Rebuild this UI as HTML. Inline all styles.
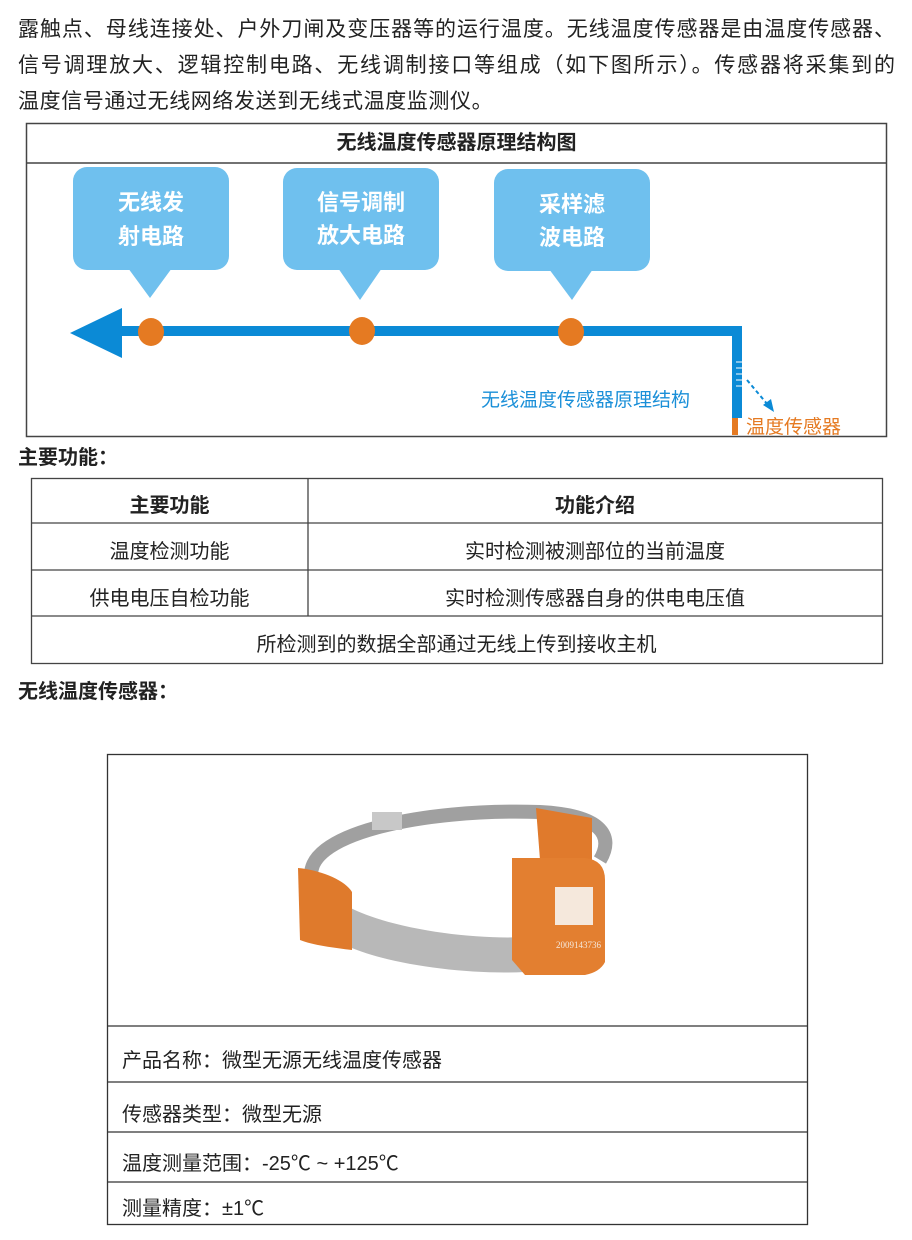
<!DOCTYPE html>
<html><head><meta charset="utf-8"><style>
*{margin:0;padding:0;box-sizing:border-box}
body{width:912px;height:1240px;background:#fff;position:relative;font-family:"Liberation Sans","Noto Sans CJK SC",sans-serif;color:#222;overflow:hidden}
.a{position:absolute;white-space:nowrap}
.j{position:absolute;left:18px;width:877px;font-size:21px;text-align:justify;text-align-last:justify;white-space:nowrap;line-height:24px}
.c{position:absolute;text-align:center;font-size:20px;line-height:24px}
.b{font-weight:bold}
</style></head><body>
<div class="j" style="top:18px">露触点、母线连接处、户外刀闸及变压器等的运行温度。无线温度传感器是由温度传感器、</div>
<div class="j" style="top:54px">信号调理放大、逻辑控制电路、无线调制接口等组成（如下图所示）。传感器将采集到的</div>
<div class="a" style="left:18px;top:90px;font-size:21px;line-height:24px;letter-spacing:0.6px">温度信号通过无线网络发送到无线式温度监测仪。</div>

<svg class="a" style="left:0;top:0" width="912" height="1240">
<rect x="26.5" y="123.5" width="860" height="313" fill="none" stroke="#444" stroke-width="1.5"/>
<line x1="26" y1="163" x2="887" y2="163" stroke="#444" stroke-width="1.5"/>
<g fill="#6fc0ee">
<rect x="73" y="167" width="156" height="103" rx="14"/><polygon points="128,268 172,268 150,298"/>
<rect x="283" y="168" width="156" height="102" rx="14"/><polygon points="338,268 382,268 360,300"/>
<rect x="494" y="169" width="156" height="102" rx="14"/><polygon points="549,269 593,269 572,300"/>
</g>
<g fill="#fff" font-weight="bold" font-size="22" text-anchor="middle" font-family="Liberation Sans,Noto Sans CJK SC,sans-serif">
<text x="151" y="210">无线发</text><text x="151" y="244">射电路</text>
<text x="361" y="210">信号调制</text><text x="361" y="243">放大电路</text>
<text x="572" y="212">采样滤</text><text x="572" y="245">波电路</text>
</g>
<g fill="#0b8ad6">
<rect x="118" y="326" width="624" height="10"/>
<rect x="732" y="326" width="10" height="92"/>
<polygon points="70,333 122,308 122,358"/>
</g>
<g stroke="#fff" stroke-width="1"><line x1="736" y1="362" x2="742" y2="362"/><line x1="736" y1="368" x2="742" y2="368"/><line x1="736" y1="374" x2="742" y2="374"/><line x1="736" y1="380" x2="742" y2="380"/><line x1="736" y1="386" x2="742" y2="386"/></g>
<rect x="732" y="418" width="6" height="17" fill="#e57a22"/>
<g fill="#e57a22"><ellipse cx="151" cy="332" rx="13" ry="14"/><ellipse cx="362" cy="331" rx="13" ry="14"/><ellipse cx="571" cy="332" rx="13" ry="14"/></g>
<line x1="747" y1="380" x2="768" y2="405" stroke="#0b8ad6" stroke-width="2" stroke-dasharray="4,3"/>
<polygon points="774,412 763,405 771,399" fill="#0b8ad6"/>
<text x="481" y="406" fill="#1a8fd8" font-size="19" font-family="Liberation Sans,Noto Sans CJK SC,sans-serif">无线温度传感器原理结构</text>
<text x="746" y="433" fill="#e57a22" font-size="19" font-family="Liberation Sans,Noto Sans CJK SC,sans-serif">温度传感器</text>

<g stroke="#444" stroke-width="1.3" fill="none">
<rect x="31.5" y="478.5" width="851" height="185"/>
<line x1="31" y1="523" x2="882" y2="523"/><line x1="31" y1="570" x2="882" y2="570"/><line x1="31" y1="616" x2="882" y2="616"/>
<line x1="308" y1="478" x2="308" y2="616"/>
</g>
<g stroke="#333" stroke-width="1.3" fill="none">
<rect x="107.5" y="754.5" width="700" height="470"/>
<line x1="107" y1="1026" x2="807" y2="1026"/><line x1="107" y1="1082" x2="807" y2="1082"/><line x1="107" y1="1132" x2="807" y2="1132"/><line x1="107" y1="1182" x2="807" y2="1182"/>
</g>
<path d="M312,880 C300,835 420,808 540,812 C600,815 615,835 600,860" fill="none" stroke="#a0a0a0" stroke-width="14"/>
<path d="M345,905 C385,928 470,940 525,937 L525,972 C465,975 385,964 345,945 Z" fill="#b8b8b8"/>
<rect x="372" y="812" width="30" height="18" fill="#c8c8c8"/>
<path d="M536,808 L592,818 L592,862 L540,860 Z" fill="#e07a2c"/>
<path d="M298,868 C320,870 345,880 352,892 L352,950 C335,948 312,945 300,940 Z" fill="#df7a2c"/>
<path d="M512,858 L585,858 Q605,860 605,880 L605,962 Q600,972 585,975 L525,975 L512,960 Z" fill="#e37f30"/>
<rect x="555" y="887" width="38" height="38" fill="#f5e8dc"/>
<text x="556" y="948" fill="#f5e8dc" font-size="9" font-family="Liberation Serif,serif">2009143736</text>

<g font-size="20" fill="#222" font-family="Liberation Sans,Noto Sans CJK SC,sans-serif">
<text x="122" y="1067">产品名称：微型无源无线温度传感器</text>
<text x="122" y="1121">传感器类型：微型无源</text>
<text x="122" y="1170">温度测量范围：-25℃ ~ +125℃</text>
<text x="122" y="1215">测量精度：±1℃</text>
</g>
</svg>
<div class="c b" style="left:26px;width:861px;top:131px;font-size:20px">无线温度传感器原理结构图</div>
<div class="a b" style="left:18px;top:446px;font-size:20px;line-height:24px">主要功能：</div>
<div class="c b" style="left:31px;width:277px;top:494px">主要功能</div>
<div class="c b" style="left:308px;width:574px;top:494px">功能介绍</div>
<div class="c" style="left:31px;width:277px;top:540px">温度检测功能</div>
<div class="c" style="left:308px;width:574px;top:540px">实时检测被测部位的当前温度</div>
<div class="c" style="left:31px;width:277px;top:587px">供电电压自检功能</div>
<div class="c" style="left:308px;width:574px;top:587px">实时检测传感器自身的供电电压值</div>
<div class="c" style="left:31px;width:851px;top:633px">所检测到的数据全部通过无线上传到接收主机</div>
<div class="a b" style="left:18px;top:680px;font-size:20px;line-height:24px">无线温度传感器：</div>
</body></html>
